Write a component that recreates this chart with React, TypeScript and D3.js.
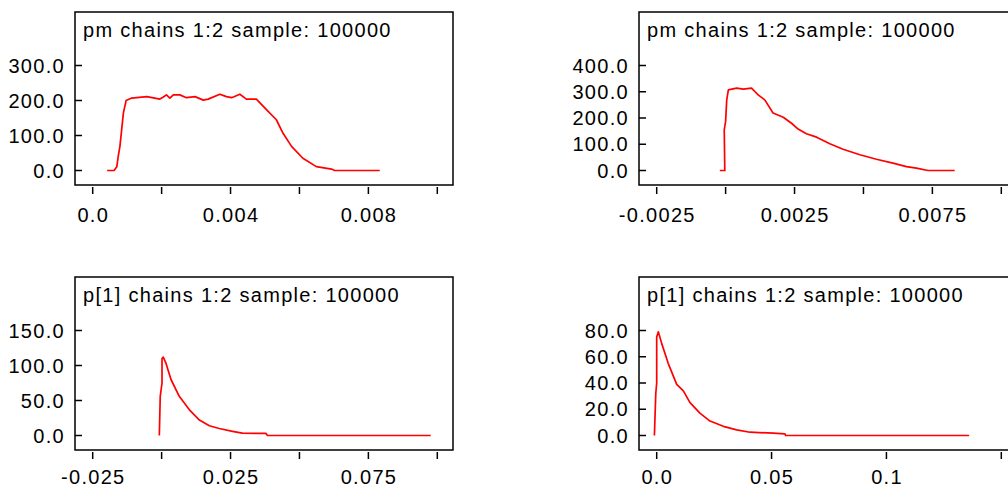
import * as d3 from 'd3'
import React from 'react'

const WIDTH = 1008
const HEIGHT = 487

// top left panel: pm density
const pmLeftX = [0.00042, 0.00062, 0.0007, 0.00074, 0.00079, 0.00084, 0.00089, 0.00097, 0.00113, 0.00157, 0.00195, 0.00205, 0.00214, 0.00224, 0.00234, 0.00253, 0.00272, 0.00297, 0.00321, 0.00335, 0.00369, 0.00388, 0.00403, 0.00427, 0.00446, 0.00475, 0.005, 0.00533, 0.00552, 0.00577, 0.0061, 0.00649, 0.00693, 0.00702, 0.00833]
const pmLeftY = [0, 0, 11, 40, 69, 116, 164, 200, 207, 211, 204, 210, 216, 207, 216, 216, 208, 211, 201, 204, 218, 211, 208, 218, 204, 204, 178, 145, 107, 69, 35, 11, 4, 0, 0]
const pmLeftXTicks = [0, 0.002, 0.004, 0.006, 0.008, 0.01]
const pmLeftXLabels = ['0.0', '', '0.004', '', '0.008', '']
const pmLeftYTicks = [0, 100, 200, 300]

// top right panel: pm density
const pmRightX = [-0.00021, -0.00003, -0.00005, 0.0, 0.00004, 0.0001, 0.0004, 0.00064, 0.00094, 0.00106, 0.00118, 0.00142, 0.00172, 0.00209, 0.00239, 0.00263, 0.00293, 0.0033, 0.00378, 0.00426, 0.00487, 0.00547, 0.00607, 0.00656, 0.00692, 0.00734, 0.00831]
const pmRightY = [0, 0, 155, 187, 269, 307, 314, 310, 314, 301, 288, 269, 219, 203, 180, 158, 140, 127, 102, 81, 60, 43, 28, 15, 9, 0, 0]
const pmRightXTicks = [-0.0025, 0, 0.0025, 0.005, 0.0075, 0.01]
const pmRightXLabels = ['-0.0025', '', '0.0025', '', '0.0075', '']
const pmRightYTicks = [0, 100, 200, 300, 400]

// bottom left panel: p[1] density
const p1LeftX = [-0.00083, -0.0005, 0.00014, 0.00014, 0.0006, 0.0016, 0.0034, 0.0064, 0.01, 0.0137, 0.0173, 0.0209, 0.0257, 0.0293, 0.0378, 0.0384, 0.0976]
const p1LeftY = [0, 56, 75, 110, 112, 103, 80, 56, 37, 22, 14, 10, 6, 3.3, 3, 0, 0]
const p1LeftXTicks = [-0.025, 0, 0.025, 0.05, 0.075, 0.1]
const p1LeftXLabels = ['-0.025', '', '0.025', '', '0.075', '']
const p1LeftYTicks = [0, 50, 100, 150]

// bottom right panel: p[1] density
const p1RightX = [-0.001, -0.0004, 0, 0, 0.0007, 0.0022, 0.005, 0.0087, 0.0116, 0.0145, 0.0188, 0.0232, 0.029, 0.0348, 0.0406, 0.0507, 0.0558, 0.0561, 0.136]
const p1RightY = [0, 32, 40, 75, 79, 70, 55, 39, 34, 25, 17, 11, 7, 4.3, 2.5, 1.8, 1.3, 0, 0]
const p1RightXTicks = [0, 0.05, 0.1, 0.15]
const p1RightXLabels = ['0.0', '0.05', '0.1', '']
const p1RightYTicks = [0, 20, 40, 60, 80]

const FONT = '"Liberation Sans", Arial, sans-serif'

interface PanelProps {
  ox: number
  oy: number
  title: string
  xs: number[]
  ys: number[]
  xTicks: number[]
  xLabels: string[]
  yTicks: number[]
  labelDy: number
}

function Panel({ ox, oy, title, xs, ys, xTicks, xLabels, yTicks, labelDy }: PanelProps) {
  const boxW = 378
  const boxH = 173
  const x = d3
    .scaleLinear()
    .domain([xTicks[0], xTicks[xTicks.length - 1]])
    .range([ox + 17.7, ox + 362.3])
  const y = d3
    .scaleLinear()
    .domain([0, yTicks[yTicks.length - 1]])
    .range([oy + 158.5, oy + 53.5])
  const line = d3
    .line<number>()
    .x((d) => x(d))
    .y((_, i) => y(ys[i]))
  const fmt = d3.format('.1f')

  return (
    <g style={{ fontFamily: FONT, fontSize: 20, letterSpacing: '1.3px' }}>
      <rect x={ox} y={oy} width={boxW} height={boxH} fill='none' stroke='#000' strokeWidth={1.5} />
      <text x={ox + 8} y={oy + 25} fill='#000'>
        {title}
      </text>
      {yTicks.map((t) => (
        <g key={`y-${t}`}>
          <line x1={ox} x2={ox + 7} y1={y(t)} y2={y(t)} stroke='#000' strokeWidth={1.5} />
          <text x={ox - 10} y={y(t)} dy='0.36em' textAnchor='end' fill='#000'>
            {fmt(t)}
          </text>
        </g>
      ))}
      {xTicks.map((t, i) => (
        <g key={`x-${t}`}>
          <line x1={x(t)} x2={x(t)} y1={oy + boxH + 2} y2={oy + boxH + 9} stroke='#000' strokeWidth={1.5} />
          {xLabels[i] && (
            <text x={x(t) + 0.6} y={oy + boxH + labelDy} textAnchor='middle' fill='#000'>
              {xLabels[i]}
            </text>
          )}
        </g>
      ))}
      <path d={line(xs) || ''} fill='none' stroke='#ff0000' strokeWidth={1.7} strokeLinejoin='round' />
    </g>
  )
}

export default function App() {
  return (
    <svg
      width={WIDTH}
      height={HEIGHT}
      style={{ position: 'absolute', left: 0, top: 0, background: '#fff' }}
    >
      <Panel
        ox={75}
        oy={12}
        title='pm chains 1:2 sample: 100000'
        xs={pmLeftX}
        ys={pmLeftY}
        xTicks={pmLeftXTicks}
        xLabels={pmLeftXLabels}
        yTicks={pmLeftYTicks}
        labelDy={37}
      />
      <Panel
        ox={639}
        oy={12}
        title='pm chains 1:2 sample: 100000'
        xs={pmRightX}
        ys={pmRightY}
        xTicks={pmRightXTicks}
        xLabels={pmRightXLabels}
        yTicks={pmRightYTicks}
        labelDy={37}
      />
      <Panel
        ox={75}
        oy={277}
        title='p[1] chains 1:2 sample: 100000'
        xs={p1LeftX}
        ys={p1LeftY}
        xTicks={p1LeftXTicks}
        xLabels={p1LeftXLabels}
        yTicks={p1LeftYTicks}
        labelDy={33.5}
      />
      <Panel
        ox={639}
        oy={277}
        title='p[1] chains 1:2 sample: 100000'
        xs={p1RightX}
        ys={p1RightY}
        xTicks={p1RightXTicks}
        xLabels={p1RightXLabels}
        yTicks={p1RightYTicks}
        labelDy={33.5}
      />
    </svg>
  )
}
